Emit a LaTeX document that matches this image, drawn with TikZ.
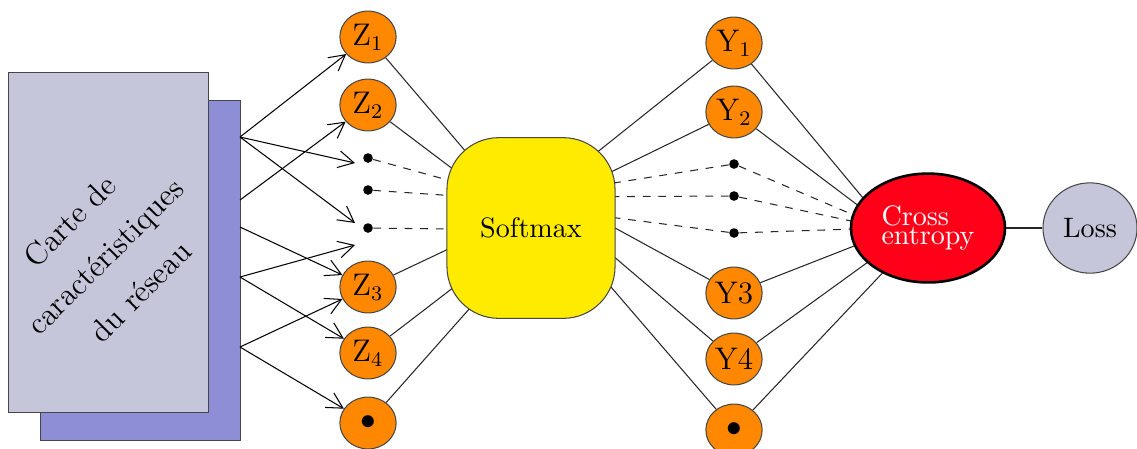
\documentclass[tikz,border=0pt]{standalone}
\usepackage{tikz}
\usetikzlibrary{arrows.meta,positioning,shapes.geometric,backgrounds,calc}
\definecolor{mapfront}{RGB}{198,198,218}
\definecolor{mapback}{RGB}{142,142,214}
\definecolor{neuron}{RGB}{255,136,0}
\definecolor{softc}{RGB}{255,235,0}
\definecolor{lossred}{RGB}{255,0,24}
\definecolor{edgegray}{RGB}{70,70,70}

\begin{document}
\begin{tikzpicture}[x=0.0135cm,y=-0.0135cm,
  every node/.style={font=\fontsize{10.8}{13}\selectfont},
  unit/.style={draw=edgegray,ellipse,fill=neuron,minimum width=7.6mm,minimum height=7mm,inner sep=0pt,font=\large},
  pt/.style={circle,fill=black,inner sep=0pt,minimum size=1.3mm},
  feed/.style={-{Straight Barb[length=6pt,width=6.5pt]}},
  link/.style={draw=black!85}]
  \useasboundingbox (0,0) rectangle (1137,448);
  % feature maps
  \node[draw=edgegray,fill=mapback,minimum width=2.7cm,minimum height=4.59cm,anchor=north west] (back) at (40,100) {};
  \node[draw=edgegray,fill=mapfront,minimum width=2.7cm,minimum height=4.59cm,anchor=north west] (front) at (8,72) {};
  \node[rotate=45,align=center,font=\fontsize{12}{19.2}\selectfont] (map) at (105,256) {Carte de\\ caractéristiques\\ du réseau};
  % logits
  \node[unit] (z1) at (368,37) {$\mathrm{Z}_1$};
  \node[unit] (z2) at (368,105) {$\mathrm{Z}_2$};
  \node[pt] (zd1) at (368,158) {};
  \node[pt] (zd2) at (368,190) {};
  \node[pt] (zd3) at (368,228) {};
  \node[unit] (z3) at (368,287) {$\mathrm{Z}_3$};
  \node[unit] (z4) at (368,353) {$\mathrm{Z}_4$};
  \node[unit] (z5) at (368,423) {$\bullet$};
  % softmax
  \node[draw=edgegray,fill=softc,rounded corners=0.7cm,minimum width=2.27cm,minimum height=2.44cm] (sm) at (531,228) {Softmax};
  % probabilities
  \node[unit] (y1) at (734,43) {$\mathrm{Y}_1$};
  \node[unit] (y2) at (734,112) {$\mathrm{Y}_2$};
  \node[pt] (yd1) at (734,164) {};
  \node[pt] (yd2) at (734,196) {};
  \node[pt] (yd3) at (734,233) {};
  \node[unit] (y3) at (734,293) {Y3};
  \node[unit] (y4) at (734,359) {Y4};
  \node[unit] (y5) at (734,430) {$\bullet$};
  % loss
  \node[ellipse,draw=black,line width=1pt,fill=lossred,text=white,align=left,minimum width=2.08cm,minimum height=1.47cm,inner sep=0pt] (ce) at (928,228) {Cross\\[-5.7pt]entropy};
  \node[ellipse,draw=edgegray,fill=mapfront,minimum width=1.27cm,minimum height=1.22cm,inner sep=0pt] (loss) at (1090,228) {Loss};
  \draw[link] (ce) -- (loss);

  % arrows out of the maps
  \coordinate (s1) at (240,137);
  \coordinate (s2) at (240,200);
  \coordinate (s3) at (240,227);
  \coordinate (s4) at (240,277);
  \coordinate (s5) at (240,347);
  \coordinate (t1) at (355,163);
  \coordinate (t2) at (355,223);
  \coordinate (t3) at (355,245);
  \draw[feed] (s1) -- (z1);
  \draw[feed] (s1) -- (t1);
  \draw[feed] (s1) -- (t2);
  \draw[feed] (s2) -- (z2);
  \draw[feed] (s3) -- (z3);
  \draw[feed] (s4) -- (t3);
  \draw[feed] (s4) -- (z4);
  \draw[feed] (s5) -- (z3);
  \draw[feed] (s5) -- (z5);

  \begin{scope}[on background layer]
    \foreach \n in {z1,z2,z4} \draw[link] (\n) -- (sm.center);
    \draw[link] (z3) -- ($(sm.center)+(0,-18)$);
    \draw[link] (z5) -- ($(sm.center)+(10,0)$);
    \draw[link,dashed] (zd1) -- ($(sm.center)+(0,-25)$);
    \draw[link,dashed] (zd2) -- ($(sm.center)+(0,-27)$);
    \draw[link,dashed] (zd3) -- ($(sm.center)+(0,2)$);
    \draw[link] (y1) -- ($(sm.center)+(0,-23)$);
    \draw[link] (y2) -- ($(sm.center)+(0,-17)$);
    \draw[link] (y3) -- ($(sm.center)+(0,-46)$);
    \draw[link] (y4) -- ($(sm.center)+(0,-42)$);
    \draw[link] (y5) -- ($(sm.center)+(0,-34)$);
    \draw[link,dashed] (yd1) -- ($(sm.center)+(0,-32)$);
    \draw[link,dashed] (yd2) -- ($(sm.center)+(0,-31)$);
    \draw[link,dashed] (yd3) -- ($(sm.center)+(0,-21)$);
    \foreach \n in {y1,y2} \draw[link] (\n) -- ($(ce.center)+(-40,0)$);
    \draw[link] (y3) -- ($(ce.center)+(-28,0)$);
    \draw[link] (y4) -- ($(ce.center)+(-13,0)$);
    \draw[link] (y5) -- ($(ce.center)+(-3,0)$);
    \foreach \n in {yd1,yd2,yd3} \draw[link,dashed] (\n) -- ($(ce.center)+(-44,0)$);
  \end{scope}
\end{tikzpicture}
\end{document}
